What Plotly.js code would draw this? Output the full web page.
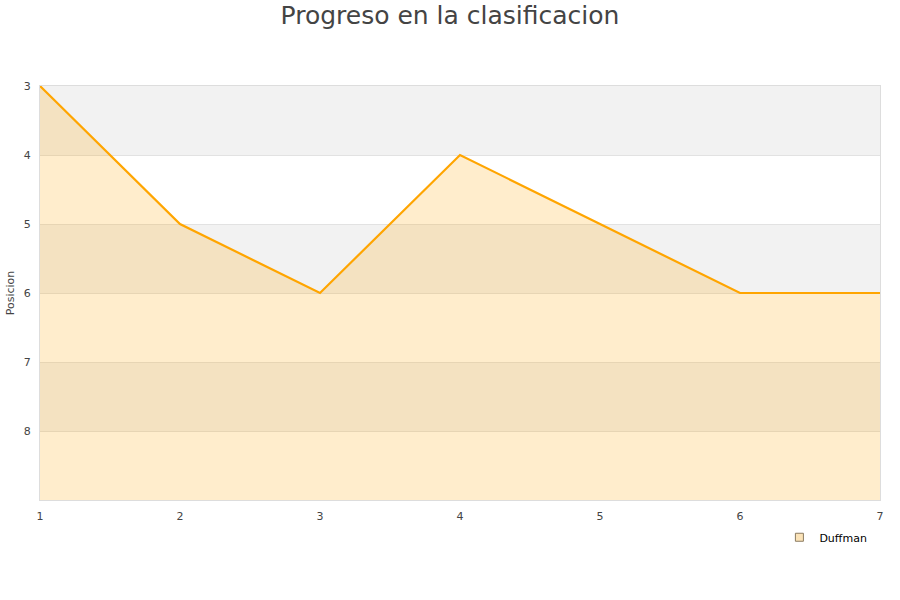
<!DOCTYPE html>
<html>
<head>
<meta charset="utf-8">
<script src="https://cdn.plot.ly/plotly-3.0.1.min.js"></script>
<style>html,body{margin:0;padding:0;background:#fff;}#chart{width:900px;height:600px;}</style>
</head>
<body>
<div id="chart"></div>
<script>
// Jornadas and league position
const jornadas = [1, 2, 3, 4, 5, 6, 7];
const posicion = [3, 5, 6, 4, 5, 6, 6];
const teamName = 'Duffman';
const yTicks = [3, 4, 5, 6, 7, 8];
const yBottom = 9;

// Alternating horizontal bands (shaded rows)
const bandStarts = [3, 5, 7];

const shapes = bandStarts.map(b => ({
  type: 'rect', xref: 'paper', yref: 'y',
  x0: 0, x1: 1, y0: b, y1: b + 1,
  fillcolor: '#f2f2f2', line: {width: 0}, layer: 'below'
}));

const baseline = {
  x: jornadas, y: jornadas.map(() => yBottom),
  mode: 'lines', line: {width: 0, color: 'rgba(0,0,0,0)'},
  hoverinfo: 'skip', showlegend: false
};

const area = {
  x: jornadas, y: posicion,
  mode: 'lines', fill: 'tonexty',
  fillcolor: 'rgba(255,165,0,0.2)',
  line: {color: '#ffa500', width: 2.2},
  showlegend: false, name: teamName
};

const legendEntry = {
  x: [null], y: [null], mode: 'markers', name: teamName,
  marker: {symbol: 'square', size: 8, color: '#fbe3b8', line: {color: '#8a7a60', width: 1}}
};

const layout = {
  width: 900, height: 600,
  margin: {l: 40, r: 20, t: 86, b: 100, autoexpand: false},
  paper_bgcolor: '#fff', plot_bgcolor: 'rgba(0,0,0,0)',
  font: {family: 'DejaVu Sans, Verdana, sans-serif', size: 11, color: '#444'},
  title: {text: 'Progreso en la clasificacion', x: 0.5, xanchor: 'center',
          yref: 'container', y: 0.975, yanchor: 'middle',
          font: {size: 25, color: '#444', family: 'DejaVu Sans, Verdana, sans-serif'}},
  shapes: shapes,
  xaxis: {
    range: [1, 7], tickvals: jornadas, showgrid: false, zeroline: false,
    showline: true, mirror: true, linecolor: '#dddddd', linewidth: 1,
    ticks: '', ticklabelstandoff: 6, tickfont: {size: 11, color: '#444'}
  },
  yaxis: {
    range: [yBottom, 3], autorange: false, tickvals: yTicks,
    showgrid: true, gridcolor: '#e2e2e2', gridwidth: 1, zeroline: false,
    showline: true, mirror: true, linecolor: '#dddddd', linewidth: 1,
    ticks: '', ticklabelstandoff: 6, tickfont: {size: 11, color: '#444'},
    title: {text: 'Posicion', font: {size: 11, color: '#444'}, standoff: 6}
  },
  showlegend: true,
  legend: {xref: 'container', x: 0.866, y: -0.09, xanchor: 'left', yanchor: 'middle',
           bgcolor: 'rgba(0,0,0,0)', font: {size: 11, color: '#000'},
           itemwidth: 30}
};

Plotly.newPlot('chart', [baseline, area, legendEntry], layout, {displayModeBar: false, staticPlot: true});
</script>
</body>
</html>
